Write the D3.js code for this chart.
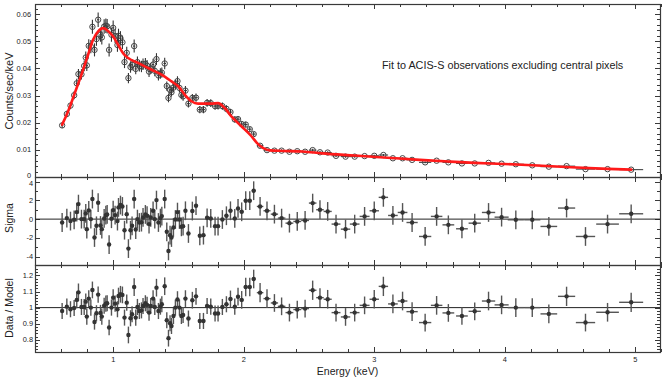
<!DOCTYPE html>
<html><head><meta charset="utf-8">
<script src="https://cdn.jsdelivr.net/npm/d3@7"></script>
<style>html,body{margin:0;padding:0;background:#fff;}svg{display:block;font-family:"Liberation Sans",Arial,Helvetica,sans-serif;}</style>
</head><body><div id="chart"></div>
<script>
// ---- data ----
const energy = [0.608,0.644,0.672,0.700,0.720,0.733,0.756,0.777,0.789,0.797,0.812,0.828,0.840,0.856,0.871,0.884,0.902,0.912,0.930,0.943,0.953,0.968,0.986,0.999,1.014,1.032,1.040,1.055,1.070,1.086,1.103,1.116,1.132,1.144,1.160,1.172,1.185,1.200,1.216,1.228,1.246,1.259,1.274,1.287,1.305,1.318,1.331,1.346,1.361,1.372,1.394,1.410,1.423,1.435,1.446,1.461,1.476,1.492,1.507,1.522,1.535,1.553,1.576,1.606,1.634,1.663,1.691,1.719,1.747,1.780,1.803,1.836,1.867,1.898,1.931,1.956,1.984,2.015,2.046,2.076,2.125,2.178,2.235,2.290,2.350,2.410,2.470,2.528,2.584,2.643,2.707,2.780,2.850,2.926,3.000,3.070,3.143,3.217,3.290,3.390,3.478,3.568,3.672,3.770,3.876,3.976,4.085,4.211,4.338,4.474,4.619,4.788,4.969];
const energyErr = [0.009,0.009,0.009,0.009,0.009,0.009,0.009,0.009,0.009,0.009,0.009,0.009,0.009,0.009,0.009,0.009,0.009,0.009,0.009,0.009,0.009,0.009,0.009,0.009,0.009,0.009,0.009,0.009,0.009,0.009,0.009,0.009,0.009,0.009,0.009,0.009,0.009,0.009,0.009,0.009,0.009,0.009,0.009,0.009,0.009,0.009,0.009,0.009,0.009,0.009,0.010,0.010,0.010,0.010,0.010,0.010,0.010,0.010,0.010,0.010,0.010,0.012,0.013,0.014,0.014,0.014,0.014,0.014,0.015,0.015,0.015,0.015,0.015,0.015,0.015,0.015,0.015,0.015,0.015,0.015,0.025,0.027,0.028,0.029,0.030,0.030,0.030,0.029,0.029,0.031,0.034,0.036,0.037,0.038,0.036,0.036,0.037,0.037,0.043,0.047,0.044,0.045,0.045,0.047,0.051,0.054,0.062,0.062,0.064,0.066,0.074,0.087,0.092];
const counts = [0.0190,0.0232,0.0263,0.0301,0.0345,0.0379,0.0378,0.0409,0.0440,0.0411,0.0483,0.0480,0.0553,0.0468,0.0508,0.0579,0.0524,0.0514,0.0554,0.0557,0.0555,0.0468,0.0524,0.0549,0.0519,0.0486,0.0520,0.0511,0.0496,0.0423,0.0457,0.0364,0.0405,0.0413,0.0482,0.0398,0.0423,0.0409,0.0407,0.0415,0.0417,0.0410,0.0388,0.0400,0.0414,0.0391,0.0434,0.0374,0.0381,0.0384,0.0418,0.0335,0.0291,0.0321,0.0312,0.0329,0.0341,0.0353,0.0328,0.0302,0.0297,0.0318,0.0270,0.0291,0.0292,0.0248,0.0248,0.0273,0.0272,0.0261,0.0262,0.0261,0.0251,0.0239,0.0212,0.0213,0.0195,0.0193,0.0176,0.0158,0.0115,0.0099,0.0097,0.0097,0.0093,0.0095,0.0093,0.0099,0.0091,0.0090,0.0078,0.0075,0.0075,0.0077,0.0078,0.0081,0.0069,0.0069,0.0063,0.0054,0.0060,0.0054,0.0050,0.0050,0.0052,0.0049,0.0047,0.0043,0.0038,0.0040,0.0029,0.0029,0.0027];
const countsErr = [0.0010,0.0012,0.0013,0.0015,0.0017,0.0019,0.0019,0.0020,0.0022,0.0021,0.0024,0.0024,0.0026,0.0024,0.0025,0.0027,0.0026,0.0026,0.0027,0.0027,0.0027,0.0024,0.0026,0.0027,0.0026,0.0025,0.0026,0.0026,0.0025,0.0022,0.0023,0.0019,0.0021,0.0021,0.0024,0.0020,0.0021,0.0021,0.0021,0.0021,0.0021,0.0021,0.0020,0.0020,0.0021,0.0020,0.0022,0.0019,0.0019,0.0019,0.0021,0.0017,0.0016,0.0017,0.0016,0.0017,0.0017,0.0018,0.0017,0.0016,0.0016,0.0017,0.0014,0.0015,0.0015,0.0013,0.0013,0.0014,0.0014,0.0013,0.0013,0.0013,0.0013,0.0012,0.0011,0.0011,0.0010,0.0010,0.0009,0.0008,0.0006,0.0005,0.0005,0.0005,0.0005,0.0005,0.0005,0.0005,0.0005,0.0005,0.0004,0.0004,0.0004,0.0004,0.0004,0.0004,0.0004,0.0004,0.0004,0.0003,0.0003,0.0003,0.0003,0.0003,0.0003,0.0003,0.0003,0.0003,0.0002,0.0002,0.0002,0.0002,0.0002];
const sigma = [-0.36,0.11,-0.21,-0.07,0.75,1.60,0.00,0.00,0.61,-1.07,0.93,0.00,2.14,-1.96,-0.71,1.75,-0.68,-1.07,0.07,0.43,0.50,-2.71,0.04,0.96,0.43,-0.21,1.25,1.50,1.35,-1.18,0.53,-3.14,-1.18,-0.71,2.14,-1.11,0.00,-0.36,-0.32,0.18,0.50,0.36,-0.53,0.18,0.89,0.00,2.03,-0.36,0.11,0.32,2.14,-1.35,-3.39,-1.71,-1.96,-0.89,-0.04,0.75,-0.04,-0.82,-0.75,0.89,-1.53,0.86,1.43,-1.78,-1.71,0.14,0.07,-0.75,-0.75,-0.04,0.36,0.89,0.07,1.14,0.78,1.96,1.96,3.03,1.35,0.89,0.53,0.11,-0.43,-0.25,-0.14,1.71,1.00,0.82,-0.53,-1.07,-0.53,0.29,0.89,2.32,0.39,0.71,-0.36,-1.85,0.29,-0.61,-1.03,-0.43,0.71,0.21,-0.07,-0.07,-0.78,1.18,-1.85,-0.53,0.57];
const sigmaErr = 1;
const ratio = [0.979,1.006,0.990,0.998,1.048,1.095,1.004,1.004,1.037,0.944,1.056,1.000,1.110,0.911,0.965,1.081,0.967,0.944,1.012,1.025,1.027,0.876,1.000,1.062,1.025,0.990,1.072,1.083,1.079,0.938,1.031,0.830,0.934,0.959,1.128,0.938,1.004,0.979,0.983,1.010,1.027,1.017,0.969,1.010,1.056,1.004,1.124,0.979,1.006,1.021,1.133,0.921,0.810,0.903,0.886,0.948,1.000,1.050,1.000,0.948,0.954,1.056,0.932,1.046,1.070,0.917,0.917,1.010,1.006,0.963,0.963,1.004,1.021,1.054,1.006,1.068,1.048,1.128,1.128,1.178,1.093,1.056,1.029,1.008,0.969,0.988,0.994,1.108,1.062,1.052,0.969,0.942,0.969,1.014,1.052,1.132,1.023,1.041,0.975,0.907,1.014,0.967,0.948,0.977,1.041,1.017,1.000,1.000,0.961,1.070,0.907,0.971,1.033];
const ratioErr = [0.050,0.050,0.050,0.050,0.052,0.055,0.050,0.050,0.050,0.050,0.052,0.050,0.052,0.048,0.050,0.050,0.050,0.050,0.050,0.050,0.050,0.048,0.050,0.052,0.050,0.050,0.052,0.052,0.052,0.050,0.050,0.052,0.050,0.050,0.055,0.050,0.050,0.050,0.050,0.050,0.050,0.050,0.050,0.050,0.052,0.050,0.055,0.050,0.050,0.050,0.055,0.050,0.052,0.050,0.050,0.050,0.050,0.052,0.050,0.050,0.050,0.052,0.050,0.052,0.052,0.050,0.050,0.050,0.050,0.050,0.050,0.050,0.050,0.052,0.050,0.055,0.055,0.058,0.058,0.058,0.060,0.058,0.055,0.055,0.055,0.055,0.055,0.060,0.058,0.058,0.055,0.055,0.055,0.055,0.058,0.060,0.058,0.058,0.058,0.055,0.058,0.055,0.055,0.055,0.058,0.058,0.058,0.058,0.058,0.060,0.055,0.058,0.060];
// fitted model curve (red)
const modelEnergy = [0.608,0.654,0.705,0.756,0.807,0.845,0.884,0.922,0.960,0.998,1.037,1.075,1.114,1.190,1.293,1.369,1.446,1.497,1.548,1.599,1.650,1.752,1.803,1.854,1.905,1.982,2.059,2.100,2.150,2.200,2.300,2.450,2.600,2.850,3.100,3.350,3.570,3.770,4.000,4.210,4.470,4.790,4.970];
const modelCounts = [0.0193,0.0242,0.0309,0.0377,0.0450,0.0505,0.0536,0.0548,0.0538,0.0518,0.0487,0.0456,0.0438,0.0420,0.0395,0.0377,0.0352,0.0334,0.0303,0.0279,0.0270,0.0270,0.0272,0.0254,0.0223,0.0187,0.0150,0.0126,0.0106,0.0098,0.0096,0.0094,0.0087,0.0079,0.0071,0.0063,0.0057,0.0052,0.0048,0.0043,0.0037,0.0030,0.0027];
const xTickLabels = ["1","2","3","4","5"];
const countTickLabels = ["0","0.01","0.02","0.03","0.04","0.05","0.06"];
const sigmaTickLabels = ["-4","-2","0","2","4"];
const ratioTickLabels = ["0.8","0.9","1","1.1","1.2"];
const title = "Fit to ACIS-S observations excluding central pixels";

// ---- layout ----
const W = 664, H = 381;
const L = 35, R = 660;
const P1 = [4, 177], P2 = [177, 265], P3 = [265, 352];
const ink = "#3a3a3a";

const svg = d3.select("#chart").append("svg").attr("width", W).attr("height", H);

const x = d3.scaleLinear().domain([0.4, 5.19]).range([L, R]);
const y1 = d3.scaleLinear().domain([0, 0.0637]).range([P1[1], P1[0]]);
const y2 = d3.scaleLinear().domain([-4.89, 4.49]).range([P2[1], P2[0]]);
const y3 = d3.scaleLinear().domain([0.724, 1.265]).range([P3[1], P3[0]]);

const data = energy.map((e, i) => ({e, ex: energyErr[i], c: counts[i], ce: countsErr[i], s: sigma[i], r: ratio[i], re: ratioErr[i]}));

const xMajor = d3.range(1, 6);
const xMinor = d3.range(0.4, 5.2001, 0.2).filter(v => Math.abs(v - Math.round(v)) > 1e-6);

function frame(yScale, top, bot, majors, minors) {
  const g = svg.append("g");
  const tick = (xs, len) => {
    xs.forEach(v => {
      const px = Math.round(x(v)) + 0.5;
      g.append("line").attr("x1", px).attr("x2", px).attr("y1", bot).attr("y2", bot - len).attr("stroke", ink).attr("stroke-width", 1);
      g.append("line").attr("x1", px).attr("x2", px).attr("y1", top).attr("y2", top + len).attr("stroke", ink).attr("stroke-width", 1);
    });
  };
  tick(xMajor, 5); tick(xMinor, 3);
  const ytick = (vs, len) => {
    vs.forEach(v => {
      const py = Math.round(yScale(v)) + 0.5;
      g.append("line").attr("x1", L).attr("x2", L + len).attr("y1", py).attr("y2", py).attr("stroke", ink).attr("stroke-width", 1);
      g.append("line").attr("x1", R).attr("x2", R - len).attr("y1", py).attr("y2", py).attr("stroke", ink).attr("stroke-width", 1);
    });
  };
  ytick(majors, 5); ytick(minors, 3);
  g.append("rect").attr("x", L + 0.5).attr("y", top + 0.5).attr("width", R - L).attr("height", bot - top)
    .attr("fill", "none").attr("stroke", ink).attr("stroke-width", 1.2);
  return g;
}

const cMajor = d3.range(0, 0.0601, 0.01);
const cMinor = d3.range(0.002, 0.0637, 0.002).filter(v => Math.abs(v * 100 - Math.round(v * 100)) > 1e-6);
frame(y1, P1[0], P1[1], cMajor, cMinor);
const sMajor = [-4, -2, 0, 2, 4];
const sMinor = [-3, -1, 1, 3];
frame(y2, P2[0], P2[1], sMajor, sMinor);
const rMajor = [0.8, 0.9, 1.0, 1.1, 1.2];
const rMinor = d3.range(0.74, 1.26, 0.02).filter(v => Math.abs(v * 10 - Math.round(v * 10)) > 1e-6);
frame(y3, P3[0], P3[1], rMajor, rMinor);

// y tick labels
const lab = (scale, vals, labels, dx, dy) => {
  vals.forEach((v, i) => {
    svg.append("text").attr("x", L - dx).attr("y", scale(v) + 2.6 + (dy ? dy(i) : 0)).attr("text-anchor", "end")
      .attr("font-size", 7.4).attr("fill", "#222").text(labels[i]);
  });
};
lab(y1, cMajor, countTickLabels, 4, i => (i === 0 ? -1.5 : 0));
lab(y2, sMajor, sigmaTickLabels, 2, i => (i === sMajor.length - 1 ? 2 : 0));
lab(y3, rMajor, ratioTickLabels, 2);
// x tick labels
xMajor.forEach((v, i) => {
  svg.append("text").attr("x", x(v)).attr("y", 362).attr("text-anchor", "middle")
    .attr("font-size", 7.4).attr("fill", "#222").text(xTickLabels[i]);
});

// axis titles
const ytitle = (txt, cy, fs) => svg.append("text").attr("transform", `translate(12.5,${cy}) rotate(-90)`)
  .attr("text-anchor", "middle").attr("font-size", fs).attr("fill", "#222").text(txt);
ytitle("Counts/sec/keV", 91, 11);
ytitle("Sigma", 218, 10.5);
ytitle("Data / Model", 308, 10.5);
svg.append("text").attr("x", 347.5).attr("y", 375).attr("text-anchor", "middle")
  .attr("font-size", 10.5).attr("fill", "#222").text("Energy (keV)");
svg.append("text").attr("x", 382).attr("y", 69).attr("font-size", 10.8).attr("fill", "#222").text(title);

// zero / unity lines
svg.append("line").attr("x1", L).attr("x2", R).attr("y1", y2(0)).attr("y2", y2(0)).attr("stroke", "#222").attr("stroke-width", 1);
svg.append("line").attr("x1", L).attr("x2", R).attr("y1", y3(1)).attr("y2", y3(1)).attr("stroke", "#222").attr("stroke-width", 1);

// top panel: error bars + open circles
const gTop = svg.append("g");
data.forEach(d => {
  gTop.append("line").attr("x1", x(d.e)).attr("x2", x(d.e)).attr("y1", y1(d.c - d.ce)).attr("y2", y1(d.c + d.ce))
    .attr("stroke", "#333").attr("stroke-width", 1.1);
  gTop.append("line").attr("x1", x(d.e - d.ex)).attr("x2", x(d.e + d.ex)).attr("y1", y1(d.c)).attr("y2", y1(d.c))
    .attr("stroke", "#333").attr("stroke-width", 1);
});
data.forEach(d => {
  gTop.append("circle").attr("cx", x(d.e)).attr("cy", y1(d.c)).attr("r", 2.7)
    .attr("fill", "none").attr("stroke", "#444").attr("stroke-width", 1);
});
// model
const line = d3.line().x((d, i) => x(modelEnergy[i])).y((d, i) => y1(modelCounts[i])).curve(d3.curveMonotoneX);
svg.append("path").datum(modelCounts).attr("d", line).attr("fill", "none").attr("stroke", "#ff1a1a").attr("stroke-width", 2.6)
  .attr("stroke-linejoin", "round").attr("stroke-linecap", "round");

// residual panels
function residuals(scale, val, err) {
  const g = svg.append("g");
  data.forEach(d => {
    const v = val(d), e = err(d);
    g.append("line").attr("x1", x(d.e)).attr("x2", x(d.e)).attr("y1", scale(v - e)).attr("y2", scale(v + e))
      .attr("stroke", "#555").attr("stroke-width", 1.4);
    g.append("line").attr("x1", x(d.e - d.ex)).attr("x2", x(d.e + d.ex)).attr("y1", scale(v)).attr("y2", scale(v))
      .attr("stroke", "#555").attr("stroke-width", 1.4);
  });
  data.forEach(d => {
    g.append("circle").attr("cx", x(d.e)).attr("cy", scale(val(d))).attr("r", 2.2).attr("fill", "#333");
  });
}
residuals(y2, d => d.s, d => sigmaErr);
residuals(y3, d => d.r, d => d.re);
</script></body></html>
